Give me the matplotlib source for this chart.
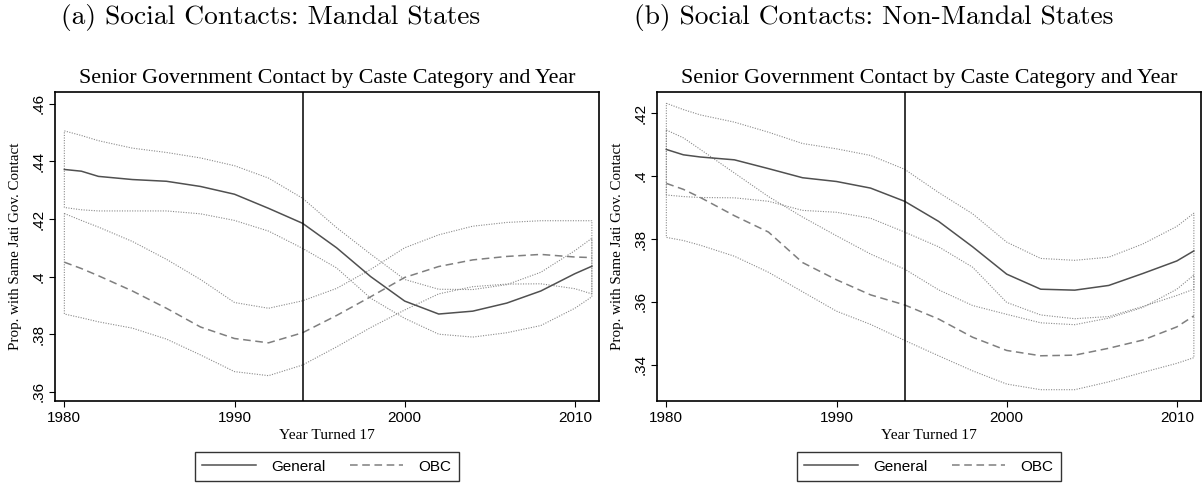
#!/usr/bin/env python3
# -*- coding: utf-8 -*-
"""
Senior government contact by caste category and year of turning 17,
Mandal vs non-Mandal states, smoothed means with dotted confidence bands.
"""

import matplotlib
matplotlib.use("Agg")
import matplotlib.pyplot as plt

# -------- data --------
YEARS = [1980, 1981, 1982, 1984, 1986, 1988, 1990, 1992, 1994,
         1996, 1998, 2000, 2002, 2004, 2006, 2008, 2010, 2011]
POLICY_YEAR = 1994

# (a) Mandal states
MANDAL_GEN = [.4372, .4366, .4348, .4337, .4331, .4313, .4286, .4237, .4185,
              .4100, .4000, .3915, .3870, .3880, .3908, .3950, .4010, .4036]
MANDAL_GEN_HI = [.4506, .4490, .4472, .4446, .4431, .4412, .4385, .4342, .4272,
                 .4170, .4078, .3990, .3956, .3955, .3972, .4015, .4090, .4133]
MANDAL_GEN_LO = [.4240, .4232, .4228, .4228, .4228, .4218, .4195, .4158, .4098,
                 .4030, .3925, .3855, .3800, .3790, .3805, .3830, .3890, .3930]
MANDAL_OBC = [.4050, .4028, .4003, .3950, .3890, .3825, .3785, .3770, .3805,
              .3865, .3930, .3997, .4035, .4058, .4070, .4077, .4068, .4066]
MANDAL_OBC_HI = [.4219, .4195, .4172, .4122, .4060, .3990, .3910, .3890, .3916,
                 .3959, .4025, .4100, .4145, .4175, .4188, .4194, .4194, .4194]
MANDAL_OBC_LO = [.3870, .3857, .3843, .3821, .3783, .3728, .3670, .3656, .3693,
                 .3756, .3823, .3884, .3940, .3965, .3974, .3975, .3958, .3940]

# (b) Non-Mandal states
NONMANDAL_GEN = [.4085, .4068, .4061, .4052, .4024, .3995, .3983, .3962, .3920,
                 .3856, .3775, .3688, .3640, .3637, .3652, .3690, .3730, .3762]
NONMANDAL_GEN_HI = [.4232, .4212, .4195, .4172, .4140, .4104, .4087, .4066, .4022,
                    .3948, .3880, .3790, .3738, .3732, .3742, .3784, .3840, .3882]
NONMANDAL_GEN_LO = [.3940, .3935, .3932, .3931, .3920, .3891, .3885, .3866, .3822,
                    .3775, .3710, .3598, .3558, .3546, .3553, .3585, .3620, .3640]
NONMANDAL_OBC = [.3977, .3958, .3932, .3874, .3822, .3725, .3670, .3622, .3590,
                 .3545, .3487, .3445, .3428, .3430, .3452, .3478, .3520, .3555]
NONMANDAL_OBC_HI = [.4147, .4122, .4085, .4010, .3935, .3870, .3810, .3752, .3704,
                    .3638, .3588, .3560, .3533, .3527, .3548, .3582, .3640, .3685]
NONMANDAL_OBC_LO = [.3805, .3795, .3780, .3745, .3694, .3632, .3570, .3528, .3477,
                    .3428, .3380, .3338, .3320, .3320, .3345, .3375, .3404, .3422]

PANELS = [
    {"caption": "(a) Social Contacts: Mandal States",
     "gen": (MANDAL_GEN, MANDAL_GEN_LO, MANDAL_GEN_HI),
     "obc": (MANDAL_OBC, MANDAL_OBC_LO, MANDAL_OBC_HI),
     "yticks": [.36, .38, .40, .42, .44, .46],
     "ytick_labels": [".36", ".38", ".4", ".42", ".44", ".46"],
     "ylim": (.3568, .4641)},
    {"caption": "(b) Social Contacts: Non-Mandal States",
     "gen": (NONMANDAL_GEN, NONMANDAL_GEN_LO, NONMANDAL_GEN_HI),
     "obc": (NONMANDAL_OBC, NONMANDAL_OBC_LO, NONMANDAL_OBC_HI),
     "yticks": [.34, .36, .38, .40, .42],
     "ytick_labels": [".34", ".36", ".38", ".4", ".42"],
     "ylim": (.3284, .4268)},
]

TITLE = "Senior Government Contact by Caste Category and Year"
YLABEL = "Prop. with Same Jati Gov. Contact"
XLABEL = "Year Turned 17"

# -------- style --------
W, H = 1204, 487
GEN_COLOR = "#505050"
OBC_COLOR = "#7f7f7f"
CI_COLOR = "#8a8a8a"
SERIF = "Liberation Serif"
SANS = "Liberation Sans"

plt.rcParams["font.family"] = SANS


def draw_band(ax, lo, hi):
    """Dotted outline of a confidence band, closed at both ends"""
    xs = YEARS + YEARS[::-1] + [YEARS[0]]
    ys = list(hi) + list(lo[::-1]) + [hi[0]]
    ax.plot(xs, ys, color=CI_COLOR, lw=0.8, ls=(0, (1, 1.3)), zorder=2)


def draw_panel(ax, panel):
    gen, gen_lo, gen_hi = panel["gen"]
    obc, obc_lo, obc_hi = panel["obc"]

    draw_band(ax, gen_lo, gen_hi)
    draw_band(ax, obc_lo, obc_hi)
    ax.plot(YEARS, gen, color=GEN_COLOR, lw=1.1, label="General", zorder=3)
    ax.plot(YEARS, obc, color=OBC_COLOR, lw=1.1, ls=(0, (5, 3)),
            label="OBC", zorder=3)
    ax.axvline(POLICY_YEAR, color="black", lw=1.1, zorder=4)

    ax.set_xlim(1979.45, 2011.42)
    ax.set_ylim(*panel["ylim"])
    ax.set_xticks([1980, 1990, 2000, 2010])
    ax.set_yticks(panel["yticks"], panel["ytick_labels"])
    for lab in ax.get_yticklabels():
        lab.set_rotation(90)
        lab.set_va("center")

    ax.tick_params(direction="out", length=4, width=0.8, labelsize=11, pad=3)
    for sp in ax.spines.values():
        sp.set_linewidth(1.2)

    ax.text(0.5, 1 + 9 / 309, TITLE, transform=ax.transAxes, ha="center",
            va="baseline", fontsize=15.8, family=SERIF)
    ax.text(0.5, -38 / 309, XLABEL, transform=ax.transAxes, ha="center",
            va="baseline", fontsize=11.1, family=SERIF)
    ax.set_ylabel(YLABEL, fontsize=10.8, family=SERIF)
    ax.yaxis.set_label_coords(-33 / 543, 0.5)

    leg = ax.legend(loc="upper center", bbox_to_anchor=(0.5, -51 / 309),
                    ncol=2, fontsize=11, frameon=True, fancybox=False,
                    handlelength=3.5, handletextpad=1.0, columnspacing=1.6,
                    borderpad=0.5, borderaxespad=0)
    leg.get_frame().set_edgecolor("black")
    leg.get_frame().set_linewidth(1.0)


# -------- main --------
if __name__ == "__main__":
    fig = plt.figure(figsize=(W / 100, H / 100), dpi=100)

    lefts = [55, 657]
    caption_x = [61, 634]
    for panel, left, cx in zip(PANELS, lefts, caption_x):
        ax = fig.add_axes([left / W, (H - 401) / H, 544 / W, 309 / H])
        draw_panel(ax, panel)
        fig.text(cx / W, 1 - 24 / H, panel["caption"], ha="left",
                 va="baseline", fontsize=19.8, family="cmr10")

    fig.savefig("out.png", dpi=100)
